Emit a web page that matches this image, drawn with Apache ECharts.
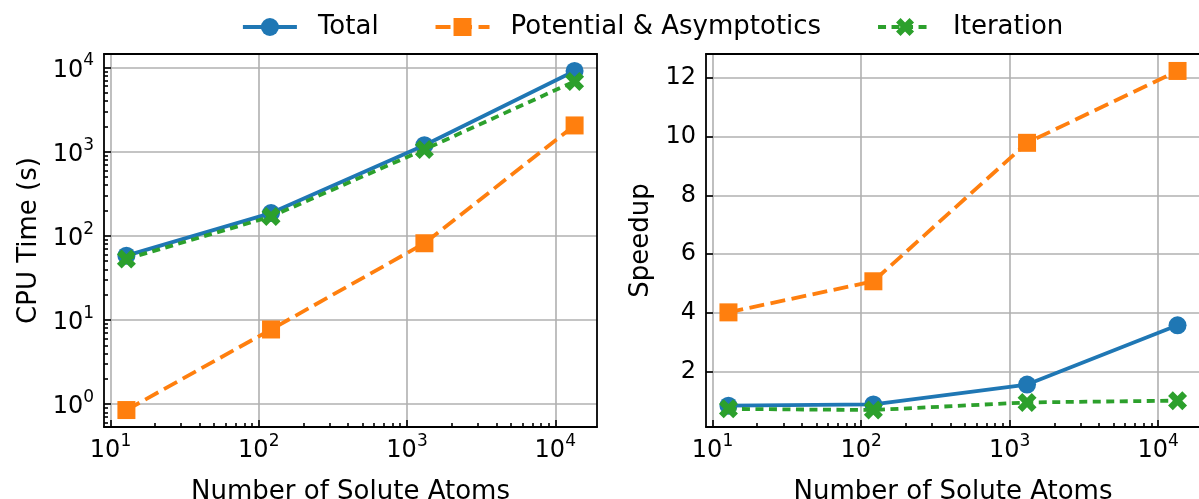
<!DOCTYPE html>
<html>
<head>
<meta charset="utf-8">
<script src="https://cdn.jsdelivr.net/npm/echarts@6/dist/echarts.min.js"></script>
<style>
  html, body { margin: 0; padding: 0; background: #fff; }
  #chart { width: 1199px; height: 499px; }
</style>
</head>
<body>
<div id="chart"></div>
<script>
// Benchmark data: number of solute atoms vs. CPU time and speedup
const atoms = [12.8, 121, 1310, 13500];
const cpuTotal = [58, 186, 1190, 9080];
const cpuPotential = [0.85, 7.7, 81.5, 2045];
const cpuIteration = [53, 169, 1060, 6820];
const speedupTotal = [0.83, 0.87, 1.55, 3.57];
const speedupPotential = [4.01, 5.07, 9.79, 12.24];
const speedupIteration = [0.72, 0.68, 0.94, 1.0];
const seriesNames = ['Total', 'Potential & Asymptotics', 'Iteration'];
const xMajorTicks = [10, 100, 1000, 10000];
const cpuMajorTicks = [1, 10, 100, 1000, 10000];
const speedupTicks = [2, 4, 6, 8, 10, 12];

const FONT = 'DejaVu Sans';
const COLORS = ['#1f77b4', '#ff7f0e', '#2ca02c'];
const GRID_GRAY = '#b0b0b0';
const LINE_W = 3.8;
const X_SYMBOL = 'path://M75 0 L100 25 L75 50 L100 75 L75 100 L50 75 L25 100 L0 75 L25 50 L0 25 L25 0 L50 25 Z';

// 5% padding around the data range, in log or linear space
function logRange(vals) {
  const l = vals.map(Math.log10);
  const lo = Math.min(...l), hi = Math.max(...l);
  const p = 0.05 * (hi - lo);
  return [Math.pow(10, lo - p), Math.pow(10, hi + p)];
}
function linRange(vals) {
  const lo = Math.min(...vals), hi = Math.max(...vals);
  const p = 0.05 * (hi - lo);
  return [lo - p, hi + p];
}
function minorLogTicks(lo, hi) {
  const out = [];
  for (let e = Math.floor(Math.log10(lo)); e <= Math.ceil(Math.log10(hi)); e++) {
    for (let k = 2; k <= 9; k++) {
      const v = k * Math.pow(10, e);
      if (v >= lo && v <= hi) out.push(v);
    }
  }
  return out;
}

const xRange = logRange(atoms);
const cpuRange = logRange(cpuTotal.concat(cpuPotential, cpuIteration));
const spRange = linRange(speedupTotal.concat(speedupPotential, speedupIteration));

const axisLineStyle = { color: '#000', width: 1.8 };
const tickLineStyle = { color: '#000', width: 1.6 };
const powRich = {
  b: { fontFamily: FONT, fontSize: 24, lineHeight: 30, color: '#000', verticalAlign: 'bottom' },
  s: { fontFamily: FONT, fontSize: 17, lineHeight: 17, color: '#000', verticalAlign: 'top' }
};
const powFormatter = v => '{b|10}{s|' + Math.round(Math.log10(v)) + '}';
const nameStyle = { fontFamily: FONT, fontSize: 26, color: '#000' };

function frameAxis(type, gridIndex, position, range) {
  return {
    type: type, gridIndex: gridIndex, position: position,
    min: range[0], max: range[1], z: 5,
    axisLine: { show: true, lineStyle: axisLineStyle },
    axisTick: { show: false }, axisLabel: { show: false }, splitLine: { show: false }
  };
}
function minorAxis(gridIndex, position, range) {
  return {
    type: 'log', gridIndex: gridIndex, position: position,
    min: range[0], max: range[1], z: 5,
    axisLine: { show: false },
    axisTick: { show: true, inside: true, length: 4, customValues: minorLogTicks(range[0], range[1]), lineStyle: tickLineStyle },
    axisLabel: { show: false }, splitLine: { show: false }
  };
}
function xMain(gridIndex) {
  return {
    type: 'log', gridIndex: gridIndex, position: 'bottom',
    min: xRange[0], max: xRange[1],
    name: 'Number of Solute Atoms', nameLocation: 'middle', nameGap: 52, nameTextStyle: nameStyle,
    axisLine: { show: true, lineStyle: axisLineStyle },
    axisTick: { show: true, inside: true, length: 7, customValues: xMajorTicks, lineStyle: tickLineStyle },
    axisLabel: { customValues: xMajorTicks, formatter: powFormatter, rich: powRich, margin: 6 },
    splitLine: { show: true, lineStyle: { color: GRID_GRAY, width: 1.6 } }
  };
}

const xAxes = [
  xMain(0), minorAxis(0, 'bottom', xRange), frameAxis('log', 0, 'top', xRange),
  xMain(1), minorAxis(1, 'bottom', xRange), frameAxis('log', 1, 'top', xRange)
];

const yAxes = [
  {
    type: 'log', gridIndex: 0, position: 'left',
    min: cpuRange[0], max: cpuRange[1],
    name: 'CPU Time (s)', nameLocation: 'middle', nameGap: 62, nameTextStyle: nameStyle,
    axisLine: { show: true, lineStyle: axisLineStyle },
    axisTick: { show: true, inside: true, length: 7, customValues: cpuMajorTicks, lineStyle: tickLineStyle },
    axisLabel: { customValues: cpuMajorTicks, formatter: powFormatter, rich: powRich, margin: 10 },
    splitLine: { show: true, lineStyle: { color: GRID_GRAY, width: 1.6 } }
  },
  minorAxis(0, 'left', cpuRange),
  frameAxis('log', 0, 'right', cpuRange),
  {
    type: 'value', gridIndex: 1, position: 'left',
    min: spRange[0], max: spRange[1], splitNumber: 6,
    name: 'Speedup', nameLocation: 'middle', nameGap: 52, nameTextStyle: nameStyle,
    axisLine: { show: true, lineStyle: axisLineStyle },
    axisTick: { show: true, inside: true, length: 7, customValues: speedupTicks, lineStyle: tickLineStyle },
    axisLabel: { customValues: speedupTicks, fontFamily: FONT, fontSize: 24, color: '#000', margin: 10 },
    splitLine: { show: true, lineStyle: { color: GRID_GRAY, width: 1.6 } }
  },
  frameAxis('value', 1, 'right', spRange)
];

const styles = [
  { symbol: 'circle', symbolSize: 18, line: 'solid' },
  { symbol: 'rect', symbolSize: 18, line: [15, 6.5] },
  { symbol: X_SYMBOL, symbolSize: 19, line: [8, 5.5] }
];

function makeSeries(xIdx, yIdx, groups) {
  return groups.map((vals, i) => ({
    name: seriesNames[i], type: 'line',
    xAxisIndex: xIdx, yAxisIndex: yIdx,
    data: atoms.map((x, k) => [x, vals[k]]),
    symbol: styles[i].symbol, symbolSize: styles[i].symbolSize,
    itemStyle: { color: COLORS[i] },
    lineStyle: { color: COLORS[i], width: LINE_W, type: styles[i].line },
    z: 3 + i
  }));
}

const option = {
  animation: false,
  backgroundColor: '#fff',
  textStyle: { fontFamily: FONT },
  legend: {
    data: seriesNames,
    left: 236, top: 9,
    itemWidth: 54, itemHeight: 22.5, itemGap: 55,
    lineStyle: { width: LINE_W },
    textStyle: { fontFamily: FONT, fontSize: 26, color: '#000', padding: [0, 0, 0, 16] }
  },
  grid: [
    { left: 104, top: 54, width: 493, height: 373, outerBoundsMode: 'none' },
    { left: 706, top: 54, width: 494, height: 373, outerBoundsMode: 'none' }
  ],
  xAxis: xAxes,
  yAxis: yAxes,
  series: makeSeries(0, 0, [cpuTotal, cpuPotential, cpuIteration])
    .concat(makeSeries(3, 3, [speedupTotal, speedupPotential, speedupIteration]))
};

const chart = echarts.init(document.getElementById('chart'), null, { renderer: 'canvas' });
chart.setOption(option);
</script>
</body>
</html>
